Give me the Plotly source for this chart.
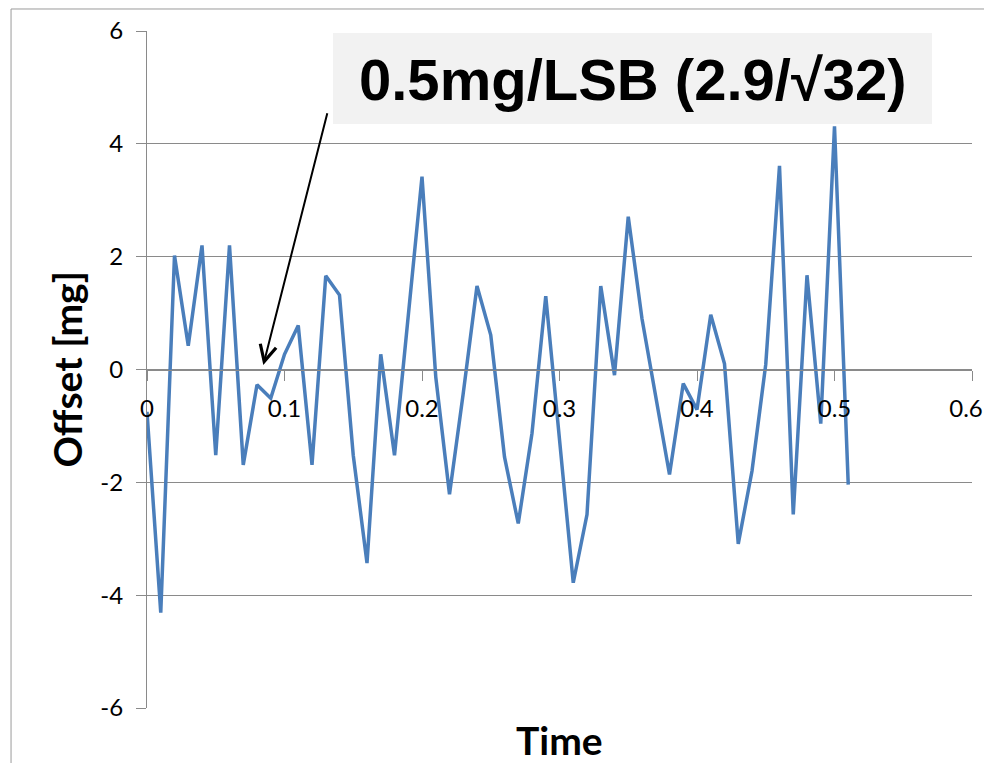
import plotly.graph_objects as go

time = [0.00, 0.01, 0.02, 0.03, 0.04, 0.05, 0.06, 0.07, 0.08, 0.09,
        0.10, 0.11, 0.12, 0.13, 0.14, 0.15, 0.16, 0.17, 0.18, 0.19,
        0.20, 0.21, 0.22, 0.23, 0.24, 0.25, 0.26, 0.27, 0.28, 0.29,
        0.30, 0.31, 0.32, 0.33, 0.34, 0.35, 0.36, 0.37, 0.38, 0.39,
        0.40, 0.41, 0.42, 0.43, 0.44, 0.45, 0.46, 0.47, 0.48, 0.49,
        0.50, 0.51]
offset = [-0.75, -4.31, 2.02, 0.42, 2.20, -1.52, 2.20, -1.69, -0.27, -0.51,
          0.27, 0.78, -1.69, 1.66, 1.32, -1.52, -3.43, 0.27, -1.52, 0.95,
          3.42, -0.13, -2.21, -0.42, 1.48, 0.61, -1.55, -2.73, -1.13, 1.30,
          -1.24, -3.78, -2.57, 1.48, -0.10, 2.71, 0.90, -0.49, -1.86, -0.25,
          -0.71, 0.97, 0.10, -3.09, -1.80, 0.09, 3.61, -2.57, 1.67, -0.96,
          4.31, -2.04]

x_ticks = [0, 0.1, 0.2, 0.3, 0.4, 0.5, 0.6]
x_tick_labels = ["0", "0.1", "0.2", "0.3", "0.4", "0.5", "0.6"]
y_ticks = [-6, -4, -2, 0, 2, 4, 6]
y_tick_labels = ["-6", "-4", "-2", "0", "2", "4", "6"]

note_text = "<b>0.5mg/LSB (2.9/\u221a32)</b>"
arrow_tip = (0.0846, 0.08)
arrow_tail = (0.1314, 4.57)

grid = "#8a8a8a"

# keep the last x label inside the visible page edge
x_text = x_tick_labels[:-1] + [x_tick_labels[-1] + "\u2002"]

fig = go.Figure()
fig.add_trace(go.Scatter(x=time, y=offset, mode="lines",
                         line=dict(color="#4a7ebb", width=3.5),
                         showlegend=False, hoverinfo="skip"))

fig.update_layout(
    width=984, height=755,
    margin=dict(l=139, r=20, t=23, b=55, autoexpand=False),
    paper_bgcolor="white", plot_bgcolor="white",
    xaxis=dict(range=[0, 0.6], tickvals=x_ticks, ticktext=x_text,
               anchor="free", position=0.5, automargin=False,
               ticklabeloverflow="allow",
               showgrid=False, zeroline=False,
               showline=True, linecolor=grid, linewidth=1,
               ticks="outside", ticklen=10, tickcolor=grid, tickwidth=1,
               ticklabelstandoff=8,
               tickfont=dict(family="Lato", size=24, color="black")),
    yaxis=dict(range=[-6, 6], tickvals=y_ticks, ticktext=y_tick_labels,
               automargin=False,
               showgrid=True, gridcolor=grid, gridwidth=1,
               zeroline=False,
               showline=True, linecolor=grid, linewidth=1,
               ticks="outside", ticklen=10, tickcolor=grid, tickwidth=1,
               ticklabelstandoff=8,
               tickfont=dict(family="Lato", size=24, color="black")),
)

# outer chart frame
fig.add_shape(type="rect", xref="paper", yref="paper",
              x0=-0.1648, x1=1.06, y0=-0.2, y1=1.0325,
              line=dict(color="#9a9a9a", width=1), layer="below")

# annotation box
fig.add_shape(type="rect", xref="paper", yref="paper",
              x0=0.2255, x1=0.9515, y0=0.8626, y1=0.997,
              fillcolor="#f2f2f2", line=dict(width=0), layer="above")
fig.add_annotation(text=note_text, xref="paper", yref="paper",
                   x=0.5885, y=0.929, xanchor="center", yanchor="middle",
                   showarrow=False,
                   font=dict(family="Liberation Sans", size=58, color="black"),
                   )
fig.add_annotation(text="", x=arrow_tip[0], y=arrow_tip[1],
                   ax=arrow_tail[0], ay=arrow_tail[1], axref="x", ayref="y",
                   showarrow=True, arrowhead=5, arrowsize=1.6, arrowwidth=2,
                   arrowcolor="black", standoff=0)

# axis titles
fig.add_annotation(text="<b>Time</b>", xref="paper", yref="paper",
                   x=0.5, y=0, yshift=-32, xanchor="center", yanchor="middle",
                   showarrow=False, font=dict(family="Lato", size=39, color="black"))
fig.add_annotation(text="<b>Offset [mg]</b>", xref="paper", yref="paper",
                   x=0, y=0.5, xshift=-81, xanchor="center", yanchor="middle",
                   textangle=-90, showarrow=False,
                   font=dict(family="Lato", size=39, color="black"))

fig.write_html("out.html")
